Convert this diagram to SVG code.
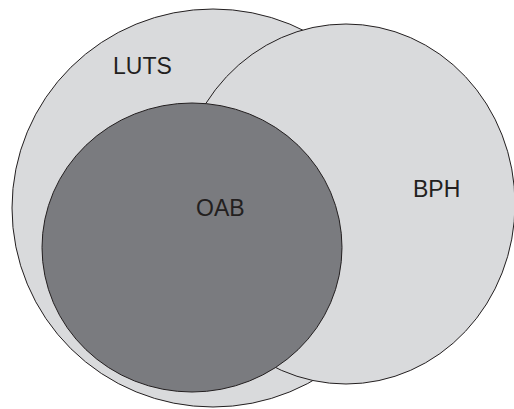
<svg xmlns="http://www.w3.org/2000/svg" width="514" height="409" viewBox="0 0 514 409">
<style>
.c{stroke:#231f20;stroke-width:1}
.l{fill:#d9dadc}
.d{fill:#7a7b7f}
text{font-family:"Liberation Sans",Arial,sans-serif;font-size:23px;fill:#231f20}
</style>
<rect width="514" height="409" fill="#fff"/>
<g id="luts"><ellipse class="c l" cx="213" cy="208" rx="201" ry="199"/><text x="113" y="74">LUTS</text></g>
<g id="bph"><ellipse class="c l" cx="346" cy="204" rx="169" ry="180"/><text x="413" y="197">BPH</text></g>
<g id="oab"><ellipse class="c d" cx="192" cy="247.5" rx="150" ry="144.5"/><text x="196" y="216">OAB</text></g>
<g id="connectors"/>
</svg>
